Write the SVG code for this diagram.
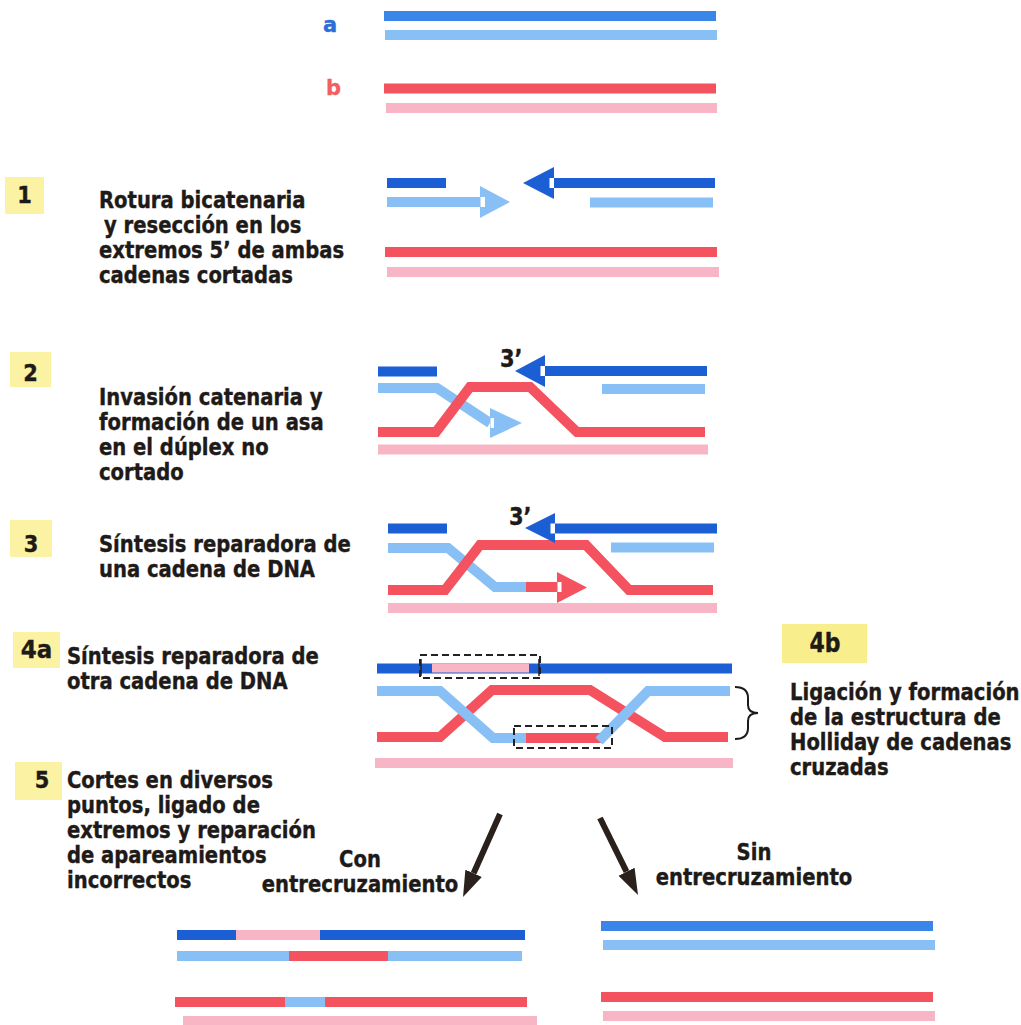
<svg xmlns="http://www.w3.org/2000/svg" width="1021" height="1025" viewBox="0 0 1021 1025">
  <defs>
    <style>
      .t { font-family: "DejaVu Sans", Verdana, sans-serif; font-weight: bold; font-size: 19.6px; fill: #1e1a18; stroke: #1e1a18; stroke-width: 0.35px; }
      .num { font-family: "DejaVu Sans", Verdana, sans-serif; font-weight: bold; font-size: 21px; fill: #1e1a18; stroke: #1e1a18; stroke-width: 0.35px; text-anchor: middle; }
      .mid { text-anchor: middle; }
      .tag { fill: #fbf3a3; }
      .s { fill: none; stroke-width: 10; stroke-linejoin: miter; stroke-linecap: butt; }
      .bt { stroke: #3a86e8; }
      .bd { stroke: #1c5fd4; }
      .bl { stroke: #88bff5; }
      .rd { stroke: #f4525f; }
      .pk { stroke: #f8b5c6; }
      .fbd { fill: #1c5fd4; }
      .fbl { fill: #88bff5; }
      .frd { fill: #f4525f; }
      .notch { fill: #ffffff; }
      .dash { fill: none; stroke: #222; stroke-width: 2; stroke-dasharray: 7 4; }
      .big { stroke: #2b211c; stroke-width: 6; fill: none; }
    </style>
    <marker id="head" markerUnits="userSpaceOnUse" markerWidth="26" markerHeight="18" refX="0" refY="9" orient="auto">
      <path d="M0,0 L26,9 L0,18 z" fill="#2b211c"/>
    </marker>
  </defs>

  <rect width="1021" height="1025" fill="#ffffff"/>

  <!-- initial duplexes a and b -->
  <g id="duplex-a">
    <text class="t" x="323" y="32" style="fill:#2a6fd8;stroke:#2a6fd8;font-size:21px">a</text>
    <line class="s bt" x1="384" y1="16" x2="716" y2="16"/>
    <line class="s bl" x1="385" y1="35" x2="717" y2="35"/>
  </g>
  <g id="duplex-b">
    <text class="t" x="326" y="95" style="fill:#f06060;stroke:#f06060;font-size:21px">b</text>
    <line class="s rd" x1="384" y1="88.5" x2="716" y2="88.5"/>
    <line class="s pk" x1="386" y1="108" x2="717" y2="108"/>
  </g>

  <!-- step 1: double-strand break and 5' resection -->
  <g id="step1">
    <rect class="tag" x="5" y="177" width="39" height="37"/>
    <text class="num" x="24.5" y="203" transform="translate(0,203) scale(1,1.12) translate(0,-203)">1</text>
    <g transform="translate(99,208) scale(1,1.18)">
      <text class="t" x="0" y="0">Rotura bicatenaria<tspan x="5" dy="21.19">y resección en los</tspan><tspan x="0" dy="21.19">extremos 5’ de ambas</tspan><tspan x="0" dy="21.19">cadenas cortadas</tspan></text>
    </g>
    <line class="s bd" x1="387" y1="183" x2="446" y2="183"/>
    <line class="s bl" x1="387" y1="202" x2="480" y2="202"/>
    <polygon class="fbl" points="480,186 480,218 510,202"/>
    <rect class="notch" x="480.5" y="197" width="4.5" height="10"/>
    <polygon class="fbd" points="523,183 554,167 554,199"/>
    <rect class="notch" x="549.5" y="178" width="4.5" height="10"/>
    <line class="s bd" x1="554" y1="183" x2="715" y2="183"/>
    <line class="s bl" x1="590" y1="202.5" x2="713" y2="202.5"/>
    <line class="s rd" x1="385" y1="252" x2="717" y2="252"/>
    <line class="s pk" x1="387" y1="272" x2="719" y2="272"/>
  </g>

  <!-- step 2: strand invasion, D-loop -->
  <g id="step2">
    <rect class="tag" x="10" y="352" width="41" height="35"/>
    <text class="num" x="30.5" y="381" transform="translate(0,381) scale(1,1.12) translate(0,-381)">2</text>
    <g transform="translate(99,405) scale(1,1.18)">
      <text class="t" x="0" y="0">Invasión catenaria y<tspan x="0" dy="21.19">formación de un asa</tspan><tspan x="0" dy="21.19">en el dúplex no</tspan><tspan x="0" dy="21.19">cortado</tspan></text>
    </g>
    <text class="t" x="500" y="367" style="font-size:21px" transform="translate(0,367) scale(1,1.18) translate(0,-367)">3’</text>
    <line class="s bd" x1="378" y1="371.5" x2="437" y2="371.5"/>
    <polygon class="fbd" points="515,371 545,355 545,387"/>
    <rect class="notch" x="540.5" y="366" width="4.5" height="10"/>
    <line class="s bd" x1="545" y1="371" x2="707" y2="371"/>
    <line class="s bl" x1="602" y1="389" x2="705" y2="389"/>
    <polyline class="s bl" points="378,388 437,388 490,423"/>
    <polygon class="fbl" points="490,408 490,438 522,423"/>
    <rect class="notch" x="490.5" y="418" width="3.5" height="10"/>
    <polyline class="s rd" points="378,432 436,432 470,387 530,387 577,432 705,432"/>
    <line class="s pk" x1="378" y1="449.5" x2="708" y2="449.5"/>
  </g>

  <!-- step 3: repair synthesis of one strand -->
  <g id="step3">
    <rect class="tag" x="10" y="520" width="42" height="37"/>
    <text class="num" x="31" y="552" transform="translate(0,552) scale(1,1.12) translate(0,-552)">3</text>
    <g transform="translate(99,552) scale(1,1.18)">
      <text class="t" x="0" y="0">Síntesis reparadora de<tspan x="0" dy="21.19">una cadena de DNA</tspan></text>
    </g>
    <text class="t" x="509" y="525" style="font-size:21px" transform="translate(0,525) scale(1,1.18) translate(0,-525)">3’</text>
    <line class="s bd" x1="388" y1="528.5" x2="447" y2="528.5"/>
    <line class="s bl" x1="611" y1="547.5" x2="714" y2="547.5"/>
    <polyline class="s bl" points="388,548 448,548 495,587 527,587"/>
    <polyline class="s rd" points="388,590 445,590 480,545 586,545 629,590 713,590"/>
    <line class="s rd" x1="526" y1="587" x2="557" y2="587"/>
    <polygon class="frd" points="557,572 557,603 587,587.5"/>
    <rect class="notch" x="557.5" y="582" width="4" height="10"/>
    <polygon class="fbd" points="525,528 555,513 555,543"/>
    <rect class="notch" x="550.5" y="523.5" width="4.5" height="10"/>
    <line class="s bd" x1="555" y1="528.5" x2="717" y2="528.5"/>
    <line class="s pk" x1="388" y1="608" x2="717" y2="608"/>
  </g>

  <!-- step 4a: second strand synthesis; 4b: ligation, Holliday structure -->
  <g id="step4a">
    <rect class="tag" x="13" y="632" width="47" height="36"/>
    <text class="num" x="36.5" y="658" style="font-size:23px" transform="translate(0,658) scale(1,1.05) translate(0,-658)">4a</text>
    <g transform="translate(67,664) scale(1,1.18)">
      <text class="t" x="0" y="0">Síntesis reparadora de<tspan x="0" dy="21.19">otra cadena de DNA</tspan></text>
    </g>
    <line class="s bd" x1="377" y1="668.5" x2="732" y2="668.5"/>
    <line x1="432" y1="668" x2="529" y2="668" stroke="#f8b5c6" stroke-width="9"/>
    <rect class="dash" x="420" y="655" width="120" height="23"/>
    <line x1="421" y1="659" x2="421" y2="676" stroke="#222" stroke-width="1.5"/>
    <line x1="539" y1="659" x2="539" y2="676" stroke="#222" stroke-width="1.5"/>
    <polyline class="s rd" points="377,737 440,737 492,690 590,690 665,737 728,737"/>
    <polyline class="s bl" points="377,691 440,691 493,738 527,738"/>
    <line class="s rd" x1="526" y1="738" x2="601" y2="738"/>
    <polyline class="s bl" points="599,741 648,691 730,691"/>
    <rect class="dash" x="514" y="726" width="98" height="22"/>
    <line class="s pk" x1="375" y1="763" x2="733" y2="763"/>
    <path d="M735,687 Q748,687 748,698 L748,705 Q748,713 758,713 Q748,713 748,721 L748,728 Q748,739 735,739" fill="none" stroke="#1e1a18" stroke-width="2"/>
  </g>
  <g id="step4b">
    <rect x="782" y="624" width="85" height="39" fill="#f8ee8c"/>
    <text class="num" x="825" y="652" style="font-size:22px" transform="translate(0,652) scale(1,1.18) translate(0,-652)">4b</text>
    <g transform="translate(790,700) scale(1,1.18)">
      <text class="t" x="0" y="0">Ligación y formación<tspan x="0" dy="21.19">de la estructura de</tspan><tspan x="0" dy="21.19">Holliday de cadenas</tspan><tspan x="0" dy="21.19">cruzadas</tspan></text>
    </g>
  </g>

  <!-- step 5: resolution -->
  <g id="step5">
    <rect class="tag" x="15" y="762" width="47" height="38"/>
    <text class="num" x="42" y="788" transform="translate(0,788) scale(1,1.12) translate(0,-788)">5</text>
    <g transform="translate(67,788) scale(1,1.18)">
      <text class="t" x="0" y="0">Cortes en diversos<tspan x="0" dy="21.19">puntos, ligado de</tspan><tspan x="0" dy="21.19">extremos y reparación</tspan><tspan x="0" dy="21.19">de apareamientos</tspan><tspan x="0" dy="21.19">incorrectos</tspan></text>
    </g>
  </g>

  <!-- connectors to the two outcomes -->
  <g id="connectors">
    <line class="big" x1="500" y1="814" x2="473.6" y2="873.3" marker-end="url(#head)"/>
    <line class="big" x1="600" y1="818" x2="626.5" y2="871.7" marker-end="url(#head)"/>
  </g>

  <!-- outcome with crossover -->
  <g id="crossover">
    <g transform="translate(360,867) scale(1,1.18)">
      <text class="t mid" x="0" y="0">Con<tspan x="0" dy="21.6">entrecruzamiento</tspan></text>
    </g>
    <line class="s bd" x1="177" y1="935" x2="525" y2="935"/>
    <line class="s pk" x1="236" y1="935" x2="320" y2="935"/>
    <line class="s bl" x1="177" y1="956" x2="522" y2="956"/>
    <line class="s rd" x1="289" y1="956" x2="388" y2="956"/>
    <line class="s rd" x1="175" y1="1002" x2="527" y2="1002"/>
    <line class="s bl" x1="285" y1="1002" x2="325" y2="1002"/>
    <line class="s pk" x1="183" y1="1021" x2="537" y2="1021"/>
  </g>

  <!-- outcome without crossover -->
  <g id="no-crossover">
    <g transform="translate(754,860) scale(1,1.18)">
      <text class="t mid" x="0" y="0">Sin<tspan x="0" dy="21.19">entrecruzamiento</tspan></text>
    </g>
    <line class="s bt" x1="601" y1="926" x2="933" y2="926"/>
    <line class="s bl" x1="603" y1="945" x2="935" y2="945"/>
    <line class="s rd" x1="601" y1="997" x2="933" y2="997"/>
    <line class="s pk" x1="603" y1="1016" x2="935" y2="1016"/>
  </g>
</svg>
